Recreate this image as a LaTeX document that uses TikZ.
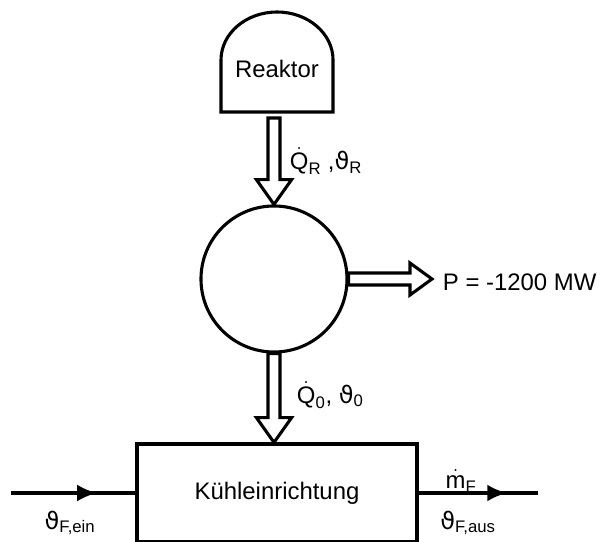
\documentclass[tikz,border=0pt]{standalone}
\usepackage{amsmath}
\usepackage{fontspec}
\setmainfont{Liberation Sans}
\newfontfamily\greekfont{DejaVu Sans}
\newcommand\vth{\text{\greekfont ϑ}}
\usetikzlibrary{arrows.meta,calc,decorations.markings}

\begin{document}
\begin{tikzpicture}[
  x=0.025cm, y=0.025cm,
  font=\fontsize{17}{20}\selectfont,
  >=Latex,
  % ---- Node styles ----
  thickline/.style={line width=2.2pt},
  block/.style={draw, line width=2.2pt, minimum width=7cm, minimum height=2.45cm, inner sep=0pt},
  machine/.style={draw, circle, line width=2.2pt, minimum size=3.65cm, inner sep=0pt},
  % ---- Hollow arrows ----
  hollowdown/.style={line width=2.2pt, line join=miter, to path={let \p1=(\tikztostart), \p2=(\tikztotarget) in
    (\x1-0.15cm,\y1) -- (\x1-0.15cm,\y2+0.62cm) -- (\x1-0.44cm,\y2+0.62cm) -- (\x1,\y2)
    -- (\x1+0.44cm,\y2+0.62cm) -- (\x1+0.15cm,\y2+0.62cm) -- (\x1+0.15cm,\y1) -- cycle}},
  hollowright/.style={line width=2.2pt, line join=miter, to path={let \p1=(\tikztostart), \p2=(\tikztotarget) in
    (\x1,\y1-0.15cm) -- (\x2-0.55cm,\y1-0.15cm) -- (\x2-0.55cm,\y1-0.4cm) -- (\x2,\y1)
    -- (\x2-0.55cm,\y1+0.4cm) -- (\x2-0.55cm,\y1+0.15cm) -- (\x1,\y1+0.15cm) -- cycle}},
  % ---- Lines ----
  flow/.style={line width=2.2pt, postaction={decorate},
    decoration={markings, mark=at position #1 with {\arrow{Latex[length=14pt,width=12pt]}}}}
]
\useasboundingbox (0,0) rectangle (602,541);

% ===== Blocks =====
\node (reaktor) at (277,472) {Reaktor};
\draw[thickline] ([shift={(-56,9)}]reaktor.center)
  arc[start angle=180, end angle=0, x radius=1.4cm, y radius=1.2cm]
  -- ([shift={(56,-43)}]reaktor.center) -- ([shift={(-56,-43)}]reaktor.center) -- cycle;
\coordinate (rbase) at (274,423);

\node[machine] (turbine) at (274,262) {};
\node[block]   (kuehler) at (277,48) {Kühleinrichtung};
\node[anchor=west] (leistung) at (438,259) {P = -1200 MW};

\coordinate (ein) at (11,48);
\coordinate (aus) at (538,48);

% ===== Connections =====
\draw[hollowdown]  (rbase) to (turbine.north);
\draw[hollowright] (turbine.east) to ([xshift=-0.15cm]leistung.west);
\draw[hollowdown]  (turbine.south) to (kuehler.north);

\draw[flow=0.69] (ein) -- (kuehler.west);
\draw[flow=0.74] (kuehler.east) -- (aus);

% ===== Labels =====
\node[anchor=west] (qr) at (285,380) {$\dot{\text{Q}}_{\text{R}}$ ,$\vth_{\text{R}}$};
\node[anchor=west] (qn) at (292,146) {$\dot{\text{Q}}_{\text{0}}$, $\vth_{\text{0}}$};
\node (mf)   at (461,60) {$\dot{\text{m}}_{\text{F}}$};
\node (tein) at (70,18)  {$\vth_{\text{F,ein}}$};
\node (taus) at (468,18) {$\vth_{\text{F,aus}}$};

\end{tikzpicture}
\end{document}
